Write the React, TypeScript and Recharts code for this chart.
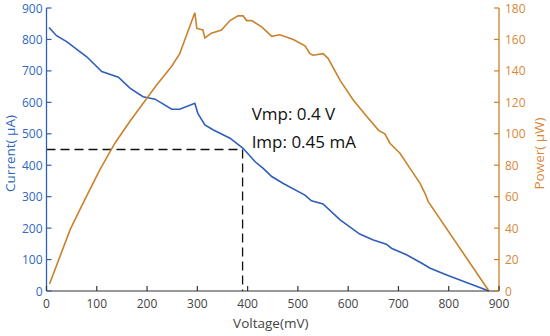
import { LineChart, Line, XAxis, YAxis, ReferenceLine, ReferenceDot, Label } from "recharts";

const X_TICKS = [0, 100, 200, 300, 400, 500, 600, 700, 800, 900];
const CURRENT_TICKS = [0, 100, 200, 300, 400, 500, 600, 700, 800, 900];
const POWER_TICKS = [0, 20, 40, 60, 80, 100, 120, 140, 160, 180];

// current curve (mV, µA)
const currentV = [5, 20, 40, 80, 110, 143, 166, 192, 216, 249, 265, 295, 301, 315, 332, 365, 391, 415, 431, 448, 471, 514, 527, 550, 584, 623, 650, 676, 686, 716, 749, 762, 796, 880];
const currentUA = [838, 812, 793, 745, 698, 680, 645, 618, 610, 578, 578, 597, 565, 528, 512, 486, 454, 411, 390, 364, 342, 305, 287, 277, 226, 181, 162, 149, 136, 115, 86, 73, 51, 0];

// power curve (mV, µW)
const powerV = [6, 47, 73, 106, 136, 166, 219, 249, 265, 295, 299, 311, 315, 328, 348, 365, 381, 391, 398, 408, 428, 448, 464, 491, 514, 524, 530, 550, 560, 584, 610, 637, 661, 673, 683, 703, 723, 743, 753, 759, 880];
const powerUW = [4.5, 39, 56, 77, 94, 108, 131, 143, 151, 177, 167, 166, 161, 164, 166, 172, 175, 175, 172, 172, 168, 162, 163, 160, 156, 151, 150, 151, 148, 134, 121.5, 111, 102, 100, 94, 87.6, 78, 68.5, 62, 57, 0];

// max power point marker + text
const MPP_V = 390;
const MPP_I = 450;
const NOTE_V = 408;
const NOTE_LINES = ["Vmp: 0.4 V", "Imp: 0.45 mA"];
const NOTE_I = [544, 456];

const BLUE = "#2f5fb8";
const BLUE_TXT = "#3068c2";
const ORANGE = "#c8822c";
const ORANGE_TXT = "#d9873a";
const FONT = "'Open Sans', sans-serif";

const currentData = currentV.map((v, i) => ({ v, value: currentUA[i] }));
const powerData = powerV.map((v, i) => ({ v, value: powerUW[i] }));

function BottomTick({ x, y, payload }: any) {
  return (
    <g>
      <line x1={x} x2={x} y1={y} y2={y - 5} stroke="#333" strokeWidth={1.2} />
      <text x={x} y={y + 17} textAnchor="middle" fill="#444" fontSize={12} fontFamily={FONT}>
        {payload.value}
      </text>
    </g>
  );
}

function TopTick({ x, y }: any) {
  return <line x1={x} x2={x} y1={y} y2={y + 5} stroke="#111" strokeWidth={1.2} />;
}

function LeftTick({ x, y, payload }: any) {
  return (
    <g>
      <line x1={x} x2={x + 5} y1={y} y2={y} stroke={BLUE} strokeWidth={1.2} />
      <text x={x - 4} y={y + 4.5} textAnchor="end" fill={BLUE_TXT} fontSize={12} fontFamily={FONT}>
        {payload.value}
      </text>
    </g>
  );
}

function RightTick({ x, y, payload }: any) {
  return (
    <g>
      <line x1={x} x2={x - 5} y1={y} y2={y} stroke={ORANGE} strokeWidth={1.2} />
      <text x={x + 6} y={y + 4.5} textAnchor="start" fill={ORANGE_TXT} fontSize={12} fontFamily={FONT}>
        {payload.value}
      </text>
    </g>
  );
}

function noteLabel(text: string) {
  return ({ viewBox }: any) => (
    <text x={viewBox.x} y={viewBox.y} fill="#111" fontSize={17} fontFamily={FONT}>
      {text}
    </text>
  );
}

export default function App() {
  return (
    <div style={{ position: "absolute", left: 0, top: 0, background: "#fff" }}>
      <LineChart width={550} height={336} margin={{ top: 8, right: 0, bottom: 0, left: 0 }}>
        <XAxis
          xAxisId="b"
          dataKey="v"
          type="number"
          domain={[0, 900]}
          ticks={X_TICKS}
          interval={0}
          height={45}
          axisLine={{ stroke: "#333", strokeWidth: 1.2 }}
          tickLine={false}
          tickSize={0}
          tickMargin={0}
          tick={BottomTick}
        >
          <Label
            content={({ viewBox }: any) => (
              <text x={viewBox.x + viewBox.width / 2 - 2} y={viewBox.y + 37} textAnchor="middle" fill="#444" fontSize={13.5} fontFamily={FONT}>
                Voltage(mV)
              </text>
            )}
          />
        </XAxis>
        <XAxis
          xAxisId="t"
          orientation="top"
          type="number"
          domain={[0, 900]}
          ticks={X_TICKS}
          interval={0}
          height={0}
          axisLine={{ stroke: "#111", strokeWidth: 1.2 }}
          tickLine={false}
          tickSize={0}
          tickMargin={0}
          tick={TopTick}
        />
        <YAxis
          yAxisId="cur"
          domain={[0, 900]}
          ticks={CURRENT_TICKS}
          interval={0}
          width={46.5}
          axisLine={{ stroke: BLUE, strokeWidth: 1.3 }}
          tickLine={false}
          tickSize={0}
          tickMargin={0}
          tick={LeftTick}
        >
          <Label
            content={({ viewBox }: any) => {
              const cx = viewBox.x + 15;
              const cy = viewBox.y + viewBox.height / 2 + 4;
              return (
                <text transform={`translate(${cx},${cy}) rotate(-90)`} textAnchor="middle" fill={BLUE_TXT} fontSize={13.5} fontFamily={FONT}>
                  Current( μA)
                </text>
              );
            }}
          />
        </YAxis>
        <YAxis
          yAxisId="pow"
          orientation="right"
          domain={[0, 180]}
          ticks={POWER_TICKS}
          interval={0}
          width={51}
          axisLine={{ stroke: ORANGE, strokeWidth: 1.3 }}
          tickLine={false}
          tickSize={0}
          tickMargin={0}
          tick={RightTick}
        >
          <Label
            content={({ viewBox }: any) => {
              const cx = viewBox.x + 45;
              const cy = viewBox.y + viewBox.height / 2 + 4;
              return (
                <text transform={`translate(${cx},${cy}) rotate(-90)`} textAnchor="middle" fill={ORANGE_TXT} fontSize={13.5} fontFamily={FONT}>
                  Power( μW)
                </text>
              );
            }}
          />
        </YAxis>

        <ReferenceLine
          xAxisId="b"
          yAxisId="cur"
          segment={[{ x: 0, y: MPP_I }, { x: MPP_V, y: MPP_I }]}
          stroke="#111"
          strokeWidth={1.3}
          strokeDasharray="9 5"
        />
        <ReferenceLine
          xAxisId="b"
          yAxisId="cur"
          segment={[{ x: MPP_V, y: MPP_I }, { x: MPP_V, y: 0 }]}
          stroke="#111"
          strokeWidth={1.3}
          strokeDasharray="9 5"
        />

        <Line
          xAxisId="b"
          yAxisId="cur"
          data={currentData}
          dataKey="value"
          type="linear"
          stroke={BLUE}
          strokeWidth={1.6}
          dot={false}
          isAnimationActive={false}
        />
        <Line
          xAxisId="b"
          yAxisId="pow"
          data={powerData}
          dataKey="value"
          type="linear"
          stroke={ORANGE}
          strokeWidth={1.6}
          dot={false}
          isAnimationActive={false}
        />

        {NOTE_LINES.map((t, i) => (
          <ReferenceDot
            key={t}
            xAxisId="b"
            yAxisId="cur"
            x={NOTE_V}
            y={NOTE_I[i]}
            r={0}
            fill="none"
            stroke="none"
            label={noteLabel(t)}
          />
        ))}
      </LineChart>
    </div>
  );
}
